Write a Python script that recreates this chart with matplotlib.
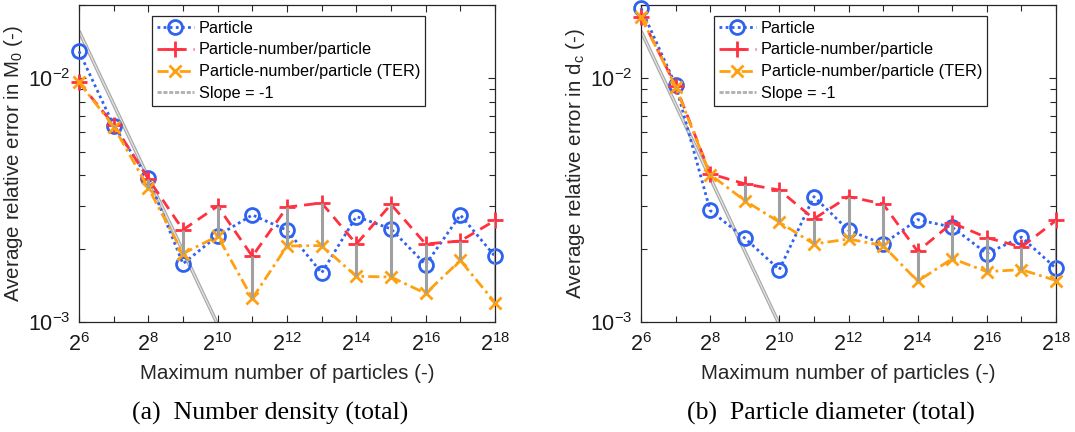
import numpy as np
import matplotlib
matplotlib.use("Agg")
import matplotlib.pyplot as plt
from matplotlib.lines import Line2D
from matplotlib.ticker import FixedLocator, NullFormatter, LogLocator

plt.rcParams["font.family"] = ["Liberation Sans", "DejaVu Sans"]
plt.rcParams["mathtext.fontset"] = "custom"
plt.rcParams["mathtext.rm"] = "Liberation Sans"
plt.rcParams["mathtext.it"] = "Liberation Sans:italic"
plt.rcParams["mathtext.default"] = "regular"

# Maximum number of particles, 2^6 ... 2^18
exponents = np.arange(6, 19)
n_particles = 2.0 ** exponents

# (a) Number density (total): average relative error in M0
m0_particle = [0.01291, 0.00640, 0.00389, 0.001734, 0.00226, 0.00275, 0.00238,
               0.00159, 0.00271, 0.00241, 0.00172, 0.00275, 0.00186]
m0_pn = [0.00964, 0.00646, 0.00387, 0.00239, 0.00299, 0.00186, 0.00296,
         0.00308, 0.00209, 0.00304, 0.00209, 0.00215, 0.00261]
m0_pn_ter = [0.00964, 0.00634, 0.00355, 0.00191, 0.00225, 0.00125, 0.00205,
             0.00206, 0.00154, 0.00153, 0.00131, 0.00179, 0.00120]

# (b) Particle diameter (total): average relative error in dc
dc_particle = [0.01942, 0.00939, 0.00287, 0.00221, 0.00164, 0.00327, 0.00238,
               0.00209, 0.00263, 0.00245, 0.00191, 0.00223, 0.00166]
dc_pn = [0.0179, 0.00933, 0.00406, 0.00369, 0.00348, 0.00265, 0.00327,
         0.00305, 0.00195, 0.00255, 0.00222, 0.00203, 0.00261]
dc_pn_ter = [0.0179, 0.00925, 0.00403, 0.00315, 0.00257, 0.00209, 0.00219,
             0.00206, 0.00147, 0.00182, 0.00161, 0.00164, 0.00148]

slope_coeff = 1.0  # reference line err = C / N

series_labels = ["Particle", "Particle-number/particle",
                 "Particle-number/particle (TER)", "Slope = -1"]
ylabels = [r"Average relative error in M$_0$ (-)",
           r"Average relative error in d$_c$ (-)"]
captions = ["(a)  Number density (total)", "(b)  Particle diameter (total)"]

W, H = 1075, 432
fig = plt.figure(figsize=(W / 100, H / 100), dpi=100)

axis_col = (0.15, 0.15, 0.15)
text_col = (0.15, 0.15, 0.15)
blue = "#2f62f0"
red = "#ff3040"
orange = "#ffa010"
gray_bar = "#a0a0a0"


def draw(ax, particle, pn, pn_ter):
    ref = slope_coeff / n_particles
    ax.plot(n_particles, ref, color="#a8a8a8", lw=2.6, zorder=1,
            solid_capstyle="butt")
    ax.plot(n_particles, ref, color="#e4e4e4", lw=0.9, zorder=1.1)
    ax.vlines(n_particles, pn_ter, pn, color=gray_bar, lw=2.2, zorder=4)
    l1, = ax.plot(n_particles, particle, ls=(0, (1, 1.2)), color=blue, lw=2.0,
                  marker="o", ms=10, mfc="none", mew=2.0, zorder=3,
                  clip_on=False)
    l2, = ax.plot(n_particles, pn, ls=(0, (4, 2.5)), color=red, lw=2.0,
                  marker="+", ms=11, mew=2.0, zorder=3, clip_on=False)
    l3, = ax.plot(n_particles, pn_ter, ls=(0, (4, 1.5, 1, 1.5)), color=orange,
                  lw=2.0, marker="x", ms=8, mew=2.0, zorder=3, clip_on=False)

    ax.set_xscale("log", base=2)
    ax.set_yscale("log")
    ax.set_xlim(2 ** 6, 2 ** 18)
    ax.set_ylim(1e-3, 2e-2)
    ax.xaxis.set_major_locator(FixedLocator(2.0 ** np.arange(6, 19, 2)))
    ax.set_xticklabels([r"$2^{%d}$" % e for e in range(6, 19, 2)])
    ax.xaxis.set_minor_locator(FixedLocator(2.0 ** np.arange(7, 18, 2)))
    ax.xaxis.set_minor_formatter(NullFormatter())
    ax.yaxis.set_major_locator(FixedLocator([1e-3, 1e-2]))
    ax.set_yticklabels([r"$10^{-3}$", r"$10^{-2}$"])
    ax.yaxis.set_minor_locator(LogLocator(base=10, subs=np.arange(2, 10)))
    ax.yaxis.set_minor_formatter(NullFormatter())

    ax.tick_params(which="both", direction="in", top=True, right=True,
                   colors=axis_col, labelcolor=(0.1, 0.1, 0.1), width=0.8)
    ax.tick_params(which="major", length=5, labelsize=15.5, pad=6)
    ax.tick_params(axis="x", which="major", pad=8)
    ax.tick_params(which="minor", length=4)
    for s in ax.spines.values():
        s.set_color(axis_col)
        s.set_linewidth(0.9)
    ax.set_xlabel("Maximum number of particles (-)", fontsize=14.8,
                  color=text_col, labelpad=6)

    ref_handle = Line2D([], [], color="#b0b0b0", lw=2.0, ls=(0, (1.5, 0.6)))
    leg = ax.legend([l1, l2, l3, ref_handle], series_labels,
                    loc="upper left", bbox_to_anchor=(0.175, 0.966),
                    fontsize=11.7, frameon=True, fancybox=False, framealpha=1,
                    edgecolor=axis_col, handlelength=2.3, handletextpad=0.3,
                    borderpad=0.3, labelspacing=0.42, borderaxespad=0)
    leg.get_frame().set_linewidth(0.9)
    leg.set_zorder(10)
    return ax


ax1 = fig.add_axes([79 / W, 1 - 322 / H, 416 / W, 317 / H])
draw(ax1, m0_particle, m0_pn, m0_pn_ter)
ax1.set_ylabel(ylabels[0], fontsize=14.8, color=text_col, labelpad=2)

ax2 = fig.add_axes([641 / W, 1 - 322 / H, 415 / W, 317 / H])
draw(ax2, dc_particle, dc_pn, dc_pn_ter)
ax2.set_ylabel(ylabels[1], fontsize=14.8, color=text_col, labelpad=2)

fig.text(270 / W, 1 - 413 / H, captions[0], ha="center", va="center",
         fontsize=18.5, family=["Liberation Serif", "DejaVu Serif"])
fig.text(831 / W, 1 - 413 / H, captions[1], ha="center", va="center",
         fontsize=18.5, family=["Liberation Serif", "DejaVu Serif"])

fig.savefig("out.png", dpi=100, facecolor="white")
